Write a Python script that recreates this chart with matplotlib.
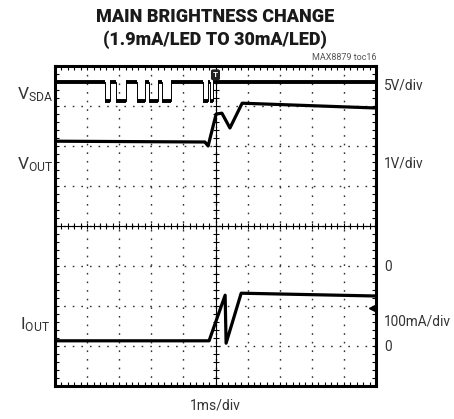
import numpy as np
import matplotlib.pyplot as plt

# Scope trace data, in divisions (x: 0..10, y: 0..8 from bottom)
sda_t = [0, 1.56, 1.71, 1.90, 2.21, 2.55, 2.80, 2.93, 3.21, 3.33, 3.62, 4.60, 4.77, 4.83, 4.92, 10]
sda_lvl = ['H', 'L', 'H', 'L', 'H', 'L', 'H', 'L', 'H', 'L', 'H', 'L', 'H', 'L', 'H', 'H']
sda_high = 7.6
sda_low = 7.12

vout_t = [0, 4.67, 4.77, 5.02, 5.20, 5.45, 5.83, 10]
vout_v = [6.12, 6.10, 6.00, 6.80, 6.82, 6.45, 7.07, 6.95]

iout_t = [0, 4.80, 5.30, 5.33, 5.80, 10]
iout_v = [1.13, 1.13, 2.27, 1.07, 2.32, 2.25]

right_labels = ['5V/div', '1V/div', '0', '100mA/div', '0']
right_y = [85, 163, 267, 322, 347]

W, H = 454, 419
plt.rcParams['font.family'] = ['Roboto', 'DejaVu Sans']
plt.rcParams['mathtext.default'] = 'regular'

fig = plt.figure(figsize=(W / 100, H / 100), dpi=100)
ax = fig.add_axes([55 / W, 1 - 386 / H, 321 / W, 320 / H])

# grid, center crosshair
ax.set_xlim(0, 10)
ax.set_ylim(0, 8)
ax.set_xticks(np.arange(0, 11, 1))
ax.set_yticks(np.arange(0, 9, 1))
ax.set_xticks(np.arange(0, 10.01, 0.2), minor=True)
ax.set_yticks(np.arange(0, 8.01, 0.2), minor=True)
ax.tick_params(which='both', direction='in', length=3, width=0.8,
               top=True, right=True, labelbottom=False, labelleft=False)
ax.grid(True, color='#333333', linestyle=(0, (1.2, 5)), linewidth=1.0)
for s in ax.spines.values():
    s.set_linewidth(2.2)

ax.axhline(4, color='black', lw=0.8)
ax.axvline(5, color='black', lw=0.8)
ticks_x = np.arange(0, 10.01, 0.2)
ticks_y = np.arange(0, 8.01, 0.2)
ax.plot(ticks_x, np.full_like(ticks_x, 4), '|', color='black', ms=4, mew=0.8)
ax.plot(np.full_like(ticks_y, 5), ticks_y, '_', color='black', ms=4, mew=0.8)

# traces
sda_v = [sda_high if l == 'H' else sda_low for l in sda_lvl]
ax.step(sda_t, sda_v, where='post', color='black', lw=0.7)
ax.hlines(sda_v[:-1], sda_t[:-1], sda_t[1:], color='black', lw=2.8)
ax.plot(vout_t, vout_v, color='black', lw=2.3)
ax.plot(iout_t, iout_v, color='black', lw=2.3)

# trigger mark and ground arrow
ax.text(5.0, 7.78, 'T', color='white', fontsize=6, fontweight='bold', ha='center', va='center',
        bbox=dict(boxstyle='round,pad=0.15', fc='#222222', ec='#222222'))
ax.plot([9.88], [1.95], marker='<', color='black', ms=4, clip_on=False)

# titles and labels
tc = '#333333'
fig.text(215 / W, 1 - 17 / H, 'MAIN BRIGHTNESS CHANGE', ha='center', va='center',
         fontsize=13, fontweight='black', color='#1a1a1a')
fig.text(215 / W, 1 - 40 / H, '(1.9mA/LED TO 30mA/LED)', ha='center', va='center',
         fontsize=13, fontweight='black', color='#1a1a1a')
fig.text(376 / W, 1 - 58 / H, 'MAX8879 toc16', ha='right', va='center', fontsize=6.5, color='#555555')

fig.text(17 / W, 1 - 95 / H, 'V$_{SDA}$', ha='left', va='center', fontsize=12.5, color=tc)
fig.text(17 / W, 1 - 165 / H, 'V$_{OUT}$', ha='left', va='center', fontsize=12.5, color=tc)
fig.text(20 / W, 1 - 325 / H, 'I$_{OUT}$', ha='left', va='center', fontsize=12.5, color=tc)

for lab, y in zip(right_labels, right_y):
    fig.text(384 / W, 1 - y / H, lab, ha='left', va='center', fontsize=9.8, color=tc)

fig.text(215 / W, 1 - 405 / H, '1ms/div', ha='center', va='center', fontsize=10, color=tc)

plt.savefig('out.png', dpi=100)
